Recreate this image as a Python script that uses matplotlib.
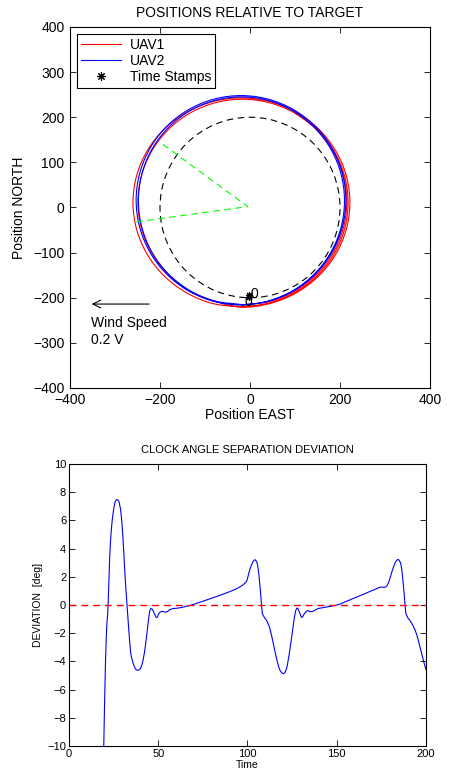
import numpy as np
import matplotlib
matplotlib.use('Agg')
import matplotlib.pyplot as plt
from matplotlib.patches import Circle, PathPatch
from matplotlib.path import Path
from matplotlib.lines import Line2D

plt.rcParams['font.family'] = ['Liberation Sans', 'DejaVu Sans']

# ============================================================================
# DATA - positions relative to target
# ============================================================================

uav1_east = [-17, 43, 99, 147, 183.9, 207.1, 215, 207.1, 183.9, 147, 99, 43,
             -17, -77, -133, -181, -217.9, -241.1, -249, -241.1, -217.9, -181, -133, -77,
             -19, 43.4, 101.5, 151.4, 189.7, 213.8, 222, 213.8, 189.7, 151.4, 101.5, 43.4,
             -19, -81.4, -139.5, -189.4, -227.7, -251.8, -260, -251.8, -227.7, -189.4, -139.5, -81.4,
             -18, 43.1, 100, 148.9, 186.4, 210, 218, 210, 186.4, 148.9, 100]
uav1_north = [-216, -208.2, -185.5, -149.2, -102, -47, 12, 71, 126, 173.2, 209.5, 232.2,
              240, 232.2, 209.5, 173.2, 126, 71, 12, -47, -102, -149.2, -185.5, -208.2,
              -221, -213.1, -189.9, -153, -105, -49, 11, 71, 127, 175, 211.9, 235.1,
              243, 235.1, 211.9, 175, 127, 71, 11, -49, -105, -153, -189.9, -213.1,
              -219, -211.2, -188.2, -151.6, -104, -48.5, 11, 70.5, 126, 173.6, 210.2]

uav2_east = [-20, 40.3, 96.5, 144.8, 181.8, 205.1, 213, 205.1, 181.8, 144.8, 96.5, 40.3,
             -20, -80.3, -136.5, -184.8, -221.8, -245.1, -253, -245.1, -221.8, -184.8, -136.5, -80.3,
             -19, 40.3, 95.5, 142.9, 179.3, 202.2, 210, 202.2, 179.3, 142.9, 95.5, 40.3,
             -19, -78.3, -133.5, -180.9, -217.3, -240.2, -248, -240.2, -217.3, -180.9, -133.5, -78.3, -19]
uav2_north = [-216, -208.1, -184.9, -148, -100, -44, 16, 76, 132, 180, 216.9, 240.1,
              248, 240.1, 216.9, 180, 132, 76, 16, -44, -100, -148, -184.9, -208.1,
              -216, -207.2, -184.2, -147.6, -100, -44.5, 15, 74.5, 130, 177.6, 214.2, 237.2,
              245, 237.2, 214.2, 177.6, 130, 74.5, 15, -44.5, -100, -147.6, -184.2, -207.2, -215]

# separation lines from the orbit centre to each UAV
sep_east = [-253, -5, -202]
sep_north = [-32, 2, 146]

# time stamps and their labels
stamp_east = [-2, -2]
stamp_north = [-194, -199]
label_east = [10, -4]
label_north = [-192, -209]
stamp_labels = ['0', '0']

target_radius = 200

# ============================================================================
# DATA - clock angle separation deviation
# ============================================================================

time = [19.4, 20.0, 20.9, 21.9, 22.8, 23.7, 24.7, 25.6, 26.9, 28.4, 29.3, 30.3, 31.2,
        32.5, 33.5, 34.4, 35.9, 37.4, 38.7, 40.0, 41.5, 43.0, 44.3, 45.2, 46.4, 47.5,
        49.2, 50.5, 51.8, 53.1, 54.6, 56.4, 62.0, 68.6, 75.0, 82.6, 88.0, 92.0, 98.5,
        99.4, 101.3, 102.8, 104.5, 105.6, 106.5, 107.5, 108.2, 109.2, 110.7, 112.5, 114.4,
        116.3, 118.1, 119.6, 120.6, 121.9, 123.7, 125.6, 126.9, 128.0, 128.9, 130.4, 131.8,
        133.5, 135.0, 136.4, 138.7, 144.0, 150.0, 159.0, 168.6, 174.0, 178.9,
        180.7, 182.6, 184.9, 186.0, 186.9, 187.9, 188.6, 189.5, 191.0, 192.9, 194.8, 196.6,
        198.5, 200.0]
deviation = [-10.5, -6.5, -2.2, 0.0, 3.4, 5.3, 6.5, 7.2, 7.47, 7.1, 6.3, 4.6, 2.5,
             0.0, -1.76, -3.2, -4.1, -4.55, -4.62, -4.5, -3.9, -2.7, -1.3, -0.46, -0.27, -0.53,
             -0.89, -0.58, -0.46, -0.48, -0.5, -0.34, -0.2, 0.0, 0.27, 0.6, 0.85, 1.05, 1.55,
             1.67, 2.5, 3.0, 3.18, 2.85, 2.0, 0.6, -0.46, -0.82, -1.1, -1.65, -2.7,
             -3.8, -4.6, -4.84, -4.84, -4.5, -3.2, -1.5, -0.46, -0.22, -0.45, -0.87, -0.63,
             -0.41, -0.46, -0.46, -0.3, -0.15, 0.0, 0.45, 0.96, 1.25, 1.55,
             2.26, 2.96, 3.18, 2.85, 2.0, 0.6, -0.46, -0.82, -1.1, -1.5, -2.1, -2.95,
             -3.9, -4.6]


def smooth_path(x, y, s=None):
    """Cubic Bezier path that passes through every given point."""
    x = np.asarray(x, float)
    y = np.asarray(y, float)
    s = np.arange(len(x), dtype=float) if s is None else np.asarray(s, float)
    dx = np.gradient(x, s)
    dy = np.gradient(y, s)
    verts = [(x[0], y[0])]
    codes = [Path.MOVETO]
    for i in range(len(x) - 1):
        h = (s[i + 1] - s[i]) / 3
        verts += [(x[i] + dx[i] * h, y[i] + dy[i] * h),
                  (x[i + 1] - dx[i + 1] * h, y[i + 1] - dy[i + 1] * h),
                  (x[i + 1], y[i + 1])]
        codes += [Path.CURVE4] * 3
    return Path(verts, codes)


# ============================================================================
# FIGURE
# ============================================================================

fig = plt.figure(figsize=(4.49, 7.78), dpi=100)

def matlab_axes(ax, fs, xpad, ypad):
    ax.tick_params(direction='in', top=True, right=True, length=4, width=0.6,
                   labelsize=fs)
    ax.tick_params(axis='x', pad=xpad)
    ax.tick_params(axis='y', pad=ypad)
    for s in ax.spines.values():
        s.set_linewidth(0.8)

# ---- top panel -------------------------------------------------------------
ax1 = fig.add_axes([0.1559, 0.5013, 0.8018, 0.464])
ax1.add_patch(PathPatch(smooth_path(uav1_east, uav1_north), fill=False,
                        ec='red', lw=0.8))
ax1.add_patch(PathPatch(smooth_path(uav2_east, uav2_north), fill=False,
                        ec='blue', lw=0.8))
ax1.add_patch(Circle((0, 0), target_radius, fill=False, ec='black', lw=0.8,
                     ls=(0, (6, 4))))
ax1.plot(sep_east, sep_north, color='#00ff00', lw=0.8, dashes=(6, 4))
ax1.plot(stamp_east, stamp_north, ls='none', marker=(8, 2, 0), ms=5, mew=0.8,
         color='black')
for e, n, lab in zip(label_east, label_north, stamp_labels):
    ax1.text(e, n, lab, fontsize=10, va='center', ha='center')

ax1.annotate('', xy=(-358, -214), xytext=(-218, -214),
             arrowprops=dict(arrowstyle='->', color='black', lw=0.8,
                             mutation_scale=14))
ax1.text(-353, -257, 'Wind Speed', fontsize=10, va='center', ha='left')
ax1.text(-353, -294, '0.2 V', fontsize=10, va='center', ha='left')

ax1.set_xlim(-400, 400)
ax1.set_ylim(-400, 400)
ax1.set_xticks(np.arange(-400, 401, 200))
ax1.set_yticks(np.arange(-400, 401, 100))
ax1.set_xlabel('Position EAST', fontsize=10, labelpad=1)
ax1.set_ylabel('Position NORTH', fontsize=10, labelpad=5)
ax1.set_title('POSITIONS RELATIVE TO TARGET', fontsize=10, pad=7)
matlab_axes(ax1, 10, 3.5, 4)

handles = [Line2D([], [], color='red', lw=0.8),
           Line2D([], [], color='blue', lw=0.8),
           Line2D([], [], ls='none', marker=(8, 2, 0), ms=6, mew=0.8, color='black')]
leg = ax1.legend(handles, ['UAV1', 'UAV2', 'Time Stamps'], loc='upper left',
                 fontsize=10, fancybox=False, framealpha=1, edgecolor='black',
                 handlelength=2.9, borderpad=0.3, labelspacing=0.15,
                 borderaxespad=0.5, handletextpad=0.6)
leg.get_frame().set_linewidth(0.8)

# ---- bottom panel ----------------------------------------------------------
ax2 = fig.add_axes([0.1537, 0.0411, 0.795, 0.3625])
ax2.add_patch(PathPatch(smooth_path(time, deviation, time), fill=False,
                        ec='blue', lw=0.8))
ax2.axhline(0, color='red', lw=1.0, dashes=(5, 3.5))
ax2.set_xlim(0, 200)
ax2.set_ylim(-10, 10)
ax2.set_xticks(np.arange(0, 201, 50))
ax2.set_yticks(np.arange(-10, 11, 2))
ax2.set_xlabel('Time', fontsize=7.5, labelpad=1)
ax2.set_ylabel('DEVIATION  [deg]', fontsize=7.5, labelpad=3)
ax2.set_title('CLOCK ANGLE SEPARATION DEVIATION', fontsize=8, pad=8)
matlab_axes(ax2, 8, 2, 2)

plt.savefig('out.png', dpi=100)
